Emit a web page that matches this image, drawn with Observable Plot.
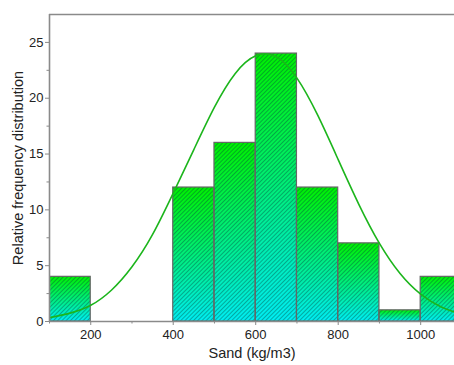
<!DOCTYPE html>
<html>
<head>
<meta charset="utf-8">
<script src="https://cdn.jsdelivr.net/npm/d3@7"></script>
<script src="https://cdn.jsdelivr.net/npm/@observablehq/plot@0.6"></script>
<style>
  html, body { margin: 0; padding: 0; background: #fff; overflow: hidden; }
  #chart svg { display: block; }
</style>
</head>
<body>
<div id="chart"></div>
<script>
// Histogram bins (kg/m3) and relative frequency
const binStart = [100, 400, 500, 600, 700, 800, 900, 1000];
const binEnd   = [200, 500, 600, 700, 800, 900, 1000, 1100];
const freq     = [4, 12, 16, 24, 12, 7, 1, 4];

// Fitted normal curve
const curveX = [100, 150, 200, 250, 300, 350, 400, 450, 500, 550, 600, 650, 700, 750, 800, 850, 900, 950, 1000, 1050, 1100];
const curveY = [0.35, 0.75, 1.45, 2.8, 4.9, 7.8, 11.5, 15.4, 19.2, 22.2, 23.8, 23.7, 21.8, 18.5, 14.5, 10.5, 7.0, 4.3, 2.45, 1.3, 0.62];

// Axis ticks
const xMajor = [200, 400, 600, 800, 1000];
const xMinor = [100, 300, 500, 700, 900];
const yMajor = [0, 5, 10, 15, 20, 25];
const yMinor = [2.5, 7.5, 12.5, 17.5, 22.5];

const xLabel = "Sand (kg/m3)";
const yLabel = "Relative frequency distribution";

const bins = binStart.map((s, i) => ({x1: s, x2: binEnd[i], y: freq[i]}));
const curve = curveX.map((x, i) => ({x, y: curveY[i]}));

const axisGray = "#8a8a8a";
const textCol = "#222";

const plot = Plot.plot({
  width: 454,
  height: 365,
  marginLeft: 49,
  marginTop: 14,
  marginBottom: 44,
  marginRight: 0,
  style: {fontFamily: "Arial, 'Liberation Sans', sans-serif", fontSize: "13px", background: "#fff", color: textCol},
  x: {domain: [100, 1082]},
  y: {domain: [0, 27.5]},
  marks: [
    Plot.rectY(bins, {x1: "x1", x2: "x2", y: "y", fill: "url(#barGrad)", clip: true}),
    Plot.rectY(bins, {x1: "x1", x2: "x2", y: "y", fill: "url(#barHatch)", stroke: "#666", strokeWidth: 1.2, clip: true}),
    Plot.line(curve, {x: "x", y: "y", stroke: "#1cb51c", strokeWidth: 1.6, curve: "natural", clip: true}),
    Plot.ruleY([27.5], {stroke: axisGray, strokeWidth: 1.6}),
    Plot.ruleY([0], {stroke: axisGray, strokeWidth: 1.6}),
    Plot.ruleX([100], {stroke: axisGray, strokeWidth: 1.6}),
    Plot.axisY({ticks: yMajor, tickSize: 4, tickPadding: 2, stroke: axisGray, fill: textCol, fontSize: 13, label: null, tickFormat: d => String(d)}),
    Plot.axisY({ticks: yMinor, tickSize: 2.5, stroke: axisGray, tickFormat: () => "", label: null}),
    Plot.axisX({ticks: xMajor, tickSize: 4, tickPadding: 4, stroke: axisGray, fill: textCol, fontSize: 13, label: null, tickFormat: d => String(d)}),
    Plot.axisX({ticks: xMinor, tickSize: 2.5, stroke: axisGray, tickFormat: () => "", label: null}),
    Plot.text([yLabel], {frameAnchor: "left", dx: -31, rotate: -90, fontSize: 14.5, fill: textCol, textAnchor: "middle"}),
    Plot.text([xLabel], {frameAnchor: "bottom", dy: 32, fontSize: 14.5, fill: textCol, lineAnchor: "middle"})
  ]
});

// Gradient and hatch definitions
const ns = "http://www.w3.org/2000/svg";
const defs = document.createElementNS(ns, "defs");
defs.innerHTML = `
  <linearGradient id="barGrad" x1="0" y1="0" x2="0" y2="1">
    <stop offset="0" stop-color="rgb(0,240,0)"/>
    <stop offset="1" stop-color="rgb(0,236,242)"/>
  </linearGradient>
  <pattern id="barHatch" patternUnits="userSpaceOnUse" width="3" height="3" patternTransform="rotate(45)">
    <line x1="0.5" y1="0" x2="0.5" y2="3" stroke="rgba(0,70,60,0.4)" stroke-width="1"/>
  </pattern>`;
plot.insertBefore(defs, plot.firstChild);
document.getElementById("chart").appendChild(plot);
</script>
</body>
</html>
